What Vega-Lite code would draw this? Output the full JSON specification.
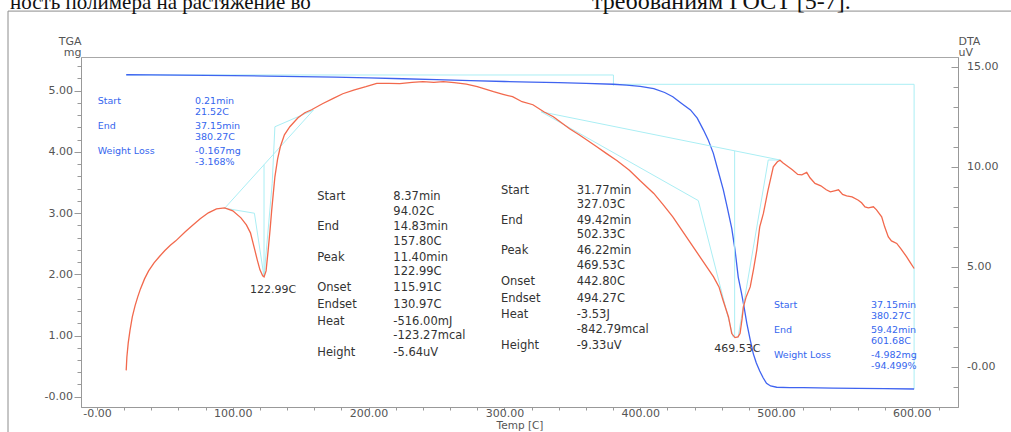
{
"$schema": "https://vega.github.io/schema/vega-lite/v6.json",
"width": 877, "height": 350,
"autosize": {"type": "none"},
"padding": {"left": 81, "top": 57, "right": 53, "bottom": 25},
"config": {
  "font": "DejaVu Sans",
  "view": {"stroke": "#a8a8a8", "strokeWidth": 1},
  "axis": {"labelFont": "DejaVu Sans", "labelFontSize": 11, "labelColor": "#555", "titleFont": "DejaVu Sans", "titleFontSize": 11, "titleFontWeight": "normal", "titleColor": "#555", "domainColor": "#999", "tickColor": "#999", "grid": false, "labelOverlap": false, "labelFlush": false}
},
"datasets": {
  "tga": [
    {"T":21.52,"mg":5.26},{"T":40,"mg":5.258},{"T":60,"mg":5.255},{"T":80,"mg":5.25},{"T":100,"mg":5.245},{"T":125,"mg":5.238},{"T":150,"mg":5.23},{"T":175,"mg":5.22},{"T":200,"mg":5.21},{"T":225,"mg":5.195},{"T":250,"mg":5.18},{"T":275,"mg":5.165},{"T":300,"mg":5.15},{"T":320,"mg":5.14},{"T":340,"mg":5.13},{"T":360,"mg":5.118},{"T":380,"mg":5.105},{"T":390,"mg":5.09},{"T":400,"mg":5.07},{"T":410,"mg":5.035},{"T":418,"mg":4.97},{"T":424,"mg":4.9},{"T":430,"mg":4.8},{"T":437,"mg":4.685},{"T":442,"mg":4.55},{"T":446.5,"mg":4.36},{"T":450,"mg":4.2},{"T":453.8,"mg":3.98},{"T":457,"mg":3.72},{"T":461.2,"mg":3.38},{"T":464,"mg":3.1},{"T":467.4,"mg":2.75},{"T":469.8,"mg":2.4},{"T":472.2,"mg":1.95},{"T":474.5,"mg":1.7},{"T":476.2,"mg":1.5},{"T":478.5,"mg":1.2},{"T":481,"mg":0.93},{"T":483.3,"mg":0.7},{"T":485.5,"mg":0.55},{"T":488,"mg":0.42},{"T":490.5,"mg":0.31},{"T":493,"mg":0.22},{"T":496,"mg":0.175},{"T":500.5,"mg":0.155},{"T":510,"mg":0.15},{"T":520,"mg":0.147},{"T":542,"mg":0.142},{"T":560,"mg":0.137},{"T":580,"mg":0.132},{"T":601.68,"mg":0.126}
  ],
  "tgaCyan": [
    {"s":"a","i":0,"T":21.52,"mg":5.256},{"s":"a","i":1,"T":380.27,"mg":5.256},{"s":"a","i":2,"T":380.27,"mg":5.08},
    {"s":"b","i":0,"T":380.27,"mg":5.104},{"s":"b","i":1,"T":601.68,"mg":5.104},{"s":"b","i":2,"T":601.68,"mg":0.126}
  ],
  "dta": [
    {"T":21.5,"uV":-0.17},{"T":22,"uV":0.5},{"T":23,"uV":1.2},{"T":24.3,"uV":1.83},{"T":26,"uV":2.5},{"T":28,"uV":3.05},{"T":30,"uV":3.5},{"T":32,"uV":3.9},{"T":35,"uV":4.4},{"T":38,"uV":4.8},{"T":42,"uV":5.2},{"T":46,"uV":5.52},{"T":50,"uV":5.82},{"T":54,"uV":6.08},{"T":58,"uV":6.3},{"T":65,"uV":6.75},{"T":70,"uV":7.05},{"T":76,"uV":7.4},{"T":82,"uV":7.7},{"T":88,"uV":7.9},{"T":94,"uV":7.95},{"T":100,"uV":7.8},{"T":106,"uV":7.45},{"T":110,"uV":7.1},{"T":113,"uV":6.7},{"T":116,"uV":5.9},{"T":118,"uV":5.35},{"T":120,"uV":4.85},{"T":122,"uV":4.55},{"T":123,"uV":4.5},{"T":124.5,"uV":4.8},{"T":126,"uV":5.8},{"T":127.5,"uV":6.9},{"T":128.6,"uV":7.8},{"T":130,"uV":8.8},{"T":131,"uV":9.5},{"T":133,"uV":10.4},{"T":135,"uV":11.0},{"T":138,"uV":11.6},{"T":142,"uV":12.0},{"T":148,"uV":12.45},{"T":153,"uV":12.7},{"T":158,"uV":12.85},{"T":166,"uV":13.15},{"T":174,"uV":13.42},{"T":181,"uV":13.65},{"T":189,"uV":13.83},{"T":198,"uV":14.0},{"T":206,"uV":14.17},{"T":215,"uV":14.17},{"T":223,"uV":14.15},{"T":232,"uV":14.22},{"T":240,"uV":14.25},{"T":248,"uV":14.22},{"T":255,"uV":14.25},{"T":263,"uV":14.2},{"T":272,"uV":14.13},{"T":280,"uV":14.0},{"T":286,"uV":13.88},{"T":292,"uV":13.75},{"T":299,"uV":13.62},{"T":306,"uV":13.5},{"T":313,"uV":13.25},{"T":321,"uV":13.1},{"T":329,"uV":12.75},{"T":336,"uV":12.5},{"T":341,"uV":12.25},{"T":348,"uV":11.9},{"T":355,"uV":11.6},{"T":361,"uV":11.33},{"T":368,"uV":11.0},{"T":375,"uV":10.67},{"T":383,"uV":10.3},{"T":392,"uV":9.83},{"T":400,"uV":9.3},{"T":410,"uV":8.67},{"T":417,"uV":8.1},{"T":424,"uV":7.5},{"T":431,"uV":6.8},{"T":439,"uV":6.0},{"T":446,"uV":5.3},{"T":454,"uV":4.5},{"T":458,"uV":4.0},{"T":461,"uV":3.33},{"T":465,"uV":2.5},{"T":467.4,"uV":1.67},{"T":469.8,"uV":1.47},{"T":472,"uV":1.5},{"T":473.5,"uV":1.67},{"T":475,"uV":2.4},{"T":476,"uV":3.0},{"T":478,"uV":3.5},{"T":481,"uV":4.0},{"T":483.5,"uV":4.9},{"T":485.8,"uV":5.83},{"T":488,"uV":7.0},{"T":490.7,"uV":7.67},{"T":494,"uV":8.8},{"T":498,"uV":10.0},{"T":501,"uV":10.25},{"T":503,"uV":10.33},{"T":505,"uV":10.2},{"T":508,"uV":10.05},{"T":512,"uV":9.85},{"T":516,"uV":9.62},{"T":519,"uV":9.6},{"T":522.6,"uV":9.72},{"T":525,"uV":9.45},{"T":528.7,"uV":9.17},{"T":533,"uV":9.05},{"T":537,"uV":8.85},{"T":540,"uV":8.75},{"T":543,"uV":8.8},{"T":546,"uV":8.85},{"T":549,"uV":8.62},{"T":552,"uV":8.55},{"T":556,"uV":8.5},{"T":560.6,"uV":8.33},{"T":563,"uV":8.2},{"T":565.5,"uV":8.0},{"T":568,"uV":7.95},{"T":571.7,"uV":8.0},{"T":574,"uV":7.85},{"T":577.8,"uV":7.5},{"T":580,"uV":7.0},{"T":582.7,"uV":6.5},{"T":585,"uV":6.3},{"T":588.9,"uV":6.17},{"T":592,"uV":5.9},{"T":596.2,"uV":5.5},{"T":599,"uV":5.2},{"T":601.7,"uV":4.92}
  ],
  "dtaCyan": [
    {"s":"d1","i":0,"T":94.02,"uV":7.93},{"s":"d1","i":1,"T":159.3,"uV":12.83},
    {"s":"d2","i":0,"T":94.02,"uV":7.93},{"s":"d2","i":1,"T":115.91,"uV":7.68},{"s":"d2","i":2,"T":123.0,"uV":4.5},
    {"s":"d3","i":0,"T":122.99,"uV":10.1},{"s":"d3","i":1,"T":122.99,"uV":4.5},
    {"s":"d4","i":0,"T":123.0,"uV":4.5},{"s":"d4","i":1,"T":129.0,"uV":9.17},{"s":"d4","i":2,"T":131.0,"uV":12.0},{"s":"d4","i":3,"T":159.3,"uV":12.83},
    {"s":"d5","i":0,"T":327.03,"uV":12.75},{"s":"d5","i":1,"T":502.9,"uV":10.34},
    {"s":"d6","i":0,"T":327.03,"uV":12.75},{"s":"d6","i":1,"T":442.8,"uV":8.31},{"s":"d6","i":2,"T":468.5,"uV":1.48},
    {"s":"d7","i":0,"T":469.53,"uV":10.79},{"s":"d7","i":1,"T":469.53,"uV":1.47},
    {"s":"d8","i":0,"T":502.9,"uV":10.34},{"s":"d8","i":1,"T":494.27,"uV":10.34},{"s":"d8","i":2,"T":472.0,"uV":1.47}
  ],
  "blueText": [
    {"T":0.52,"mg":4.831,"text":"Start"},{"T":72.16,"mg":4.831,"text":"0.21min"},{"T":72.16,"mg":4.647,"text":"21.52C"},
    {"T":0.52,"mg":4.423,"text":"End"},{"T":72.16,"mg":4.423,"text":"37.15min"},{"T":72.16,"mg":4.248,"text":"380.27C"},
    {"T":0.52,"mg":4.014,"text":"Weight Loss"},{"T":72.16,"mg":4.014,"text":"-0.167mg"},{"T":72.16,"mg":3.830,"text":"-3.168%"},
    {"T":498.5,"mg":1.498,"text":"Start"},{"T":569.9,"mg":1.498,"text":"37.15min"},{"T":569.9,"mg":1.319,"text":"380.27C"},
    {"T":498.5,"mg":1.090,"text":"End"},{"T":569.9,"mg":1.090,"text":"59.42min"},{"T":569.9,"mg":0.905,"text":"601.68C"},
    {"T":498.5,"mg":0.686,"text":"Weight Loss"},{"T":569.9,"mg":0.686,"text":"-4.982mg"},{"T":569.9,"mg":0.502,"text":"-94.499%"}
  ],
  "blackText": [
    {"T":162.2,"mg":3.268,"text":"Start"},{"T":218.2,"mg":3.268,"text":"8.37min"},{"T":218.2,"mg":3.023,"text":"94.02C"},
    {"T":162.2,"mg":2.768,"text":"End"},{"T":218.2,"mg":2.768,"text":"14.83min"},{"T":218.2,"mg":2.528,"text":"157.80C"},
    {"T":162.2,"mg":2.266,"text":"Peak"},{"T":218.2,"mg":2.266,"text":"11.40min"},{"T":218.2,"mg":2.033,"text":"122.99C"},
    {"T":162.2,"mg":1.771,"text":"Onset"},{"T":218.2,"mg":1.771,"text":"115.91C"},
    {"T":162.2,"mg":1.498,"text":"Endset"},{"T":218.2,"mg":1.498,"text":"130.97C"},
    {"T":162.2,"mg":1.221,"text":"Heat"},{"T":218.2,"mg":1.221,"text":"-516.00mJ"},{"T":218.2,"mg":0.997,"text":"-123.27mcal"},
    {"T":162.2,"mg":0.719,"text":"Height"},{"T":218.2,"mg":0.719,"text":"-5.64uV"},
    {"T":297.5,"mg":3.366,"text":"Start"},{"T":353.2,"mg":3.366,"text":"31.77min"},{"T":353.2,"mg":3.132,"text":"327.03C"},
    {"T":297.5,"mg":2.876,"text":"End"},{"T":353.2,"mg":2.876,"text":"49.42min"},{"T":353.2,"mg":2.642,"text":"502.33C"},
    {"T":297.5,"mg":2.381,"text":"Peak"},{"T":353.2,"mg":2.381,"text":"46.22min"},{"T":353.2,"mg":2.140,"text":"469.53C"},
    {"T":297.5,"mg":1.874,"text":"Onset"},{"T":353.2,"mg":1.874,"text":"442.80C"},
    {"T":297.5,"mg":1.601,"text":"Endset"},{"T":353.2,"mg":1.601,"text":"494.27C"},
    {"T":297.5,"mg":1.330,"text":"Heat"},{"T":353.2,"mg":1.330,"text":"-3.53J"},{"T":353.2,"mg":1.090,"text":"-842.79mcal"},
    {"T":297.5,"mg":0.829,"text":"Height"},{"T":353.2,"mg":0.829,"text":"-9.33uV"}
  ],
  "peakText": [
    {"T":129.6,"mg":1.743,"text":"122.99C"},{"T":471.6,"mg":0.780,"text":"469.53C"}
  ],
  "pageText1": [
    {"T":-64.06,"mg":6.335,"text":"ность полимера на растяжение во"}
  ],
  "pageText2": [
    {"T":364.5,"mg":6.335,"text":"требованиям ГОСТ [5-7]."}
  ],
  "frame": [{"T":-65.53,"T2":700,"mg":6.30,"mg2":-1}]
},
"layer": [
  {
    "encoding": {
      "x": {"field":"T","type":"quantitative","scale":{"domain":[-11.78,634],"nice":false,"zero":false},
        "axis":{"title":"Temp  [C]","values":[0,20,40,60,80,100,120,140,160,180,200,220,240,260,280,300,320,340,360,380,400,420,440,460,480,500,520,540,560,580,600,620],
          "labelExpr":"datum.value % 100 == 0 ? (datum.value == 0 ? '-0.00' : format(datum.value, '.2f')) : ''",
          "tickSize":3,"labelPadding":-3,"titlePadding":2,"titleFontSize":10.5}},
      "y": {"field":"mg","type":"quantitative","scale":{"domain":[-0.168,5.55],"nice":false,"zero":false},
        "axis":{"orient":"left","title":["TGA","mg"],"titleAngle":0,"titleAlign":"right","titleBaseline":"middle","titleX":0,"titleY":-16,"titleLineHeight":11,
          "values":[0,0.2,0.4,0.6,0.8,1,1.2,1.4,1.6,1.8,2,2.2,2.4,2.6,2.8,3,3.2,3.4,3.6,3.8,4,4.2,4.4,4.6,4.8,5,5.2,5.4],
          "labelExpr":"abs(datum.value) < 0.001 ? '-0.00' : (abs(datum.value - round(datum.value)) < 0.001 ? format(datum.value, '.2f') : '')",
          "tickSize":{"condition":{"test":"abs(datum.value - round(datum.value)) < 0.001","value":7},"value":4},
          "labelPadding":1.5}}
    },
    "layer": [
      {"data":{"name":"frame"},"mark":{"type":"rect","fill":null,"stroke":"#8c8c8c","strokeWidth":1},
       "encoding":{"x2":{"field":"T2"},"y2":{"field":"mg2"}}},
      {"data":{"name":"pageText1"},"mark":{"type":"text","font":"Liberation Serif","fontSize":21,"align":"left","baseline":"alphabetic","color":"#111"},
       "encoding":{"text":{"field":"text"}}},
      {"data":{"name":"pageText2"},"mark":{"type":"text","font":"Liberation Serif","fontSize":24,"align":"left","baseline":"alphabetic","color":"#111"},
       "encoding":{"text":{"field":"text"}}},
      {"data":{"name":"tgaCyan"},"mark":{"type":"line","color":"#aaeef4","strokeWidth":1},
       "encoding":{"detail":{"field":"s"},"order":{"field":"i"}}},
      {"data":{"name":"tga"},"mark":{"type":"line","color":"#3f63f0","strokeWidth":1.3}},
      {"data":{"name":"blueText"},"mark":{"type":"text","fontSize":9.5,"align":"left","baseline":"middle","color":"#3566ee"},
       "encoding":{"text":{"field":"text"}}},
      {"data":{"name":"blackText"},"mark":{"type":"text","fontSize":11.5,"align":"left","baseline":"middle","color":"#333"},
       "encoding":{"text":{"field":"text"}}},
      {"data":{"name":"peakText"},"mark":{"type":"text","fontSize":11,"align":"center","baseline":"middle","color":"#333"},
       "encoding":{"text":{"field":"text"}}}
    ]
  },
  {
    "encoding": {
      "x": {"field":"T","type":"quantitative","scale":{"domain":[-11.78,634],"nice":false,"zero":false},
        "axis":{"title":"Temp  [C]","values":[0,20,40,60,80,100,120,140,160,180,200,220,240,260,280,300,320,340,360,380,400,420,440,460,480,500,520,540,560,580,600,620],
          "labelExpr":"datum.value % 100 == 0 ? (datum.value == 0 ? '-0.00' : format(datum.value, '.2f')) : ''",
          "tickSize":3,"labelPadding":-3,"titlePadding":2,"titleFontSize":10.5}},
      "y": {"field":"uV","type":"quantitative","scale":{"domain":[-2.0,15.485],"nice":false,"zero":false},
        "axis":{"orient":"right","title":["DTA","uV"],"titleAngle":0,"titleAlign":"left","titleBaseline":"middle","titleX":0,"titleY":-16,"titleLineHeight":11,
          "values":[-1,0,1,2,3,4,5,6,7,8,9,10,11,12,13,14,15],
          "labelExpr":"datum.value % 5 == 0 ? (datum.value == 0 ? '-0.00' : format(datum.value, '.2f')) : ''",
          "tickSize":{"condition":{"test":"datum.value % 5 == 0","value":-7},"value":-5},
          "labelPadding":15.5}}
    },
    "layer": [
      {"data":{"name":"dtaCyan"},"mark":{"type":"line","color":"#aaeef4","strokeWidth":1},
       "encoding":{"detail":{"field":"s"},"order":{"field":"i"}}},
      {"data":{"name":"dta"},"mark":{"type":"line","color":"#f2694d","strokeWidth":1.3}}
    ]
  }
],
"resolve": {"scale": {"y": "independent"}}
}
